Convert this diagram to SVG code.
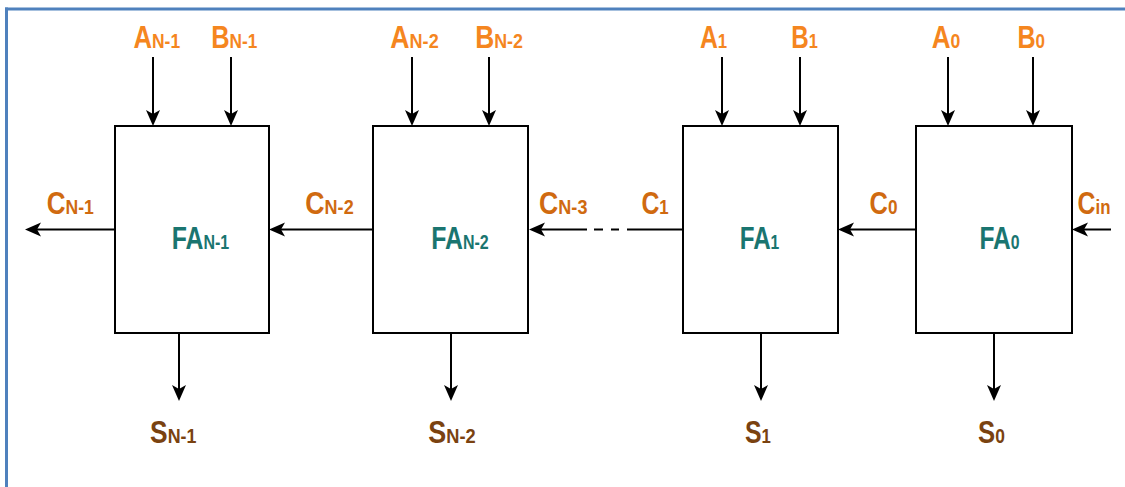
<svg xmlns="http://www.w3.org/2000/svg" width="1125" height="487" viewBox="0 0 1125 487">
<style>
.box{fill:#fff;stroke:#000;stroke-width:2}
.wire{stroke:#000;stroke-width:2;fill:none}
.lbl{font-family:"Liberation Sans",Arial,sans-serif;font-weight:bold;text-anchor:middle}
.io{fill:#F5861F}
.car{fill:#D06A10}
.sum{fill:#7A4210}
.fa{fill:#1A7570}
.big{font-size:31px}
.sub{font-size:21px}
.fsub{font-size:20px}
.frame{stroke:#4F81BD;stroke-width:3;fill:none}
</style>
<defs>
<marker id="arr" markerUnits="userSpaceOnUse" markerWidth="20" markerHeight="16" viewBox="-17 -8 20 16" refX="-10" refY="0" orient="auto">
<path d="M0,0 L-16,-7 L-12,0 L-16,7 Z" fill="#000"/>
</marker>
</defs>
<rect x="0" y="0" width="1125" height="487" fill="#fff"/>
<g id="frame">
<line class="frame" x1="5" y1="9" x2="1125" y2="9"/>
<line class="frame" x1="6.5" y1="7.5" x2="6.5" y2="487"/>
</g>
<g id="connectors">
<line class="wire" x1="153" y1="57" x2="153" y2="116" marker-end="url(#arr)"/>
<line class="wire" x1="231" y1="57" x2="231" y2="116" marker-end="url(#arr)"/>
<line class="wire" x1="412" y1="57" x2="412" y2="116" marker-end="url(#arr)"/>
<line class="wire" x1="489" y1="57" x2="489" y2="116" marker-end="url(#arr)"/>
<line class="wire" x1="722" y1="57" x2="722" y2="116" marker-end="url(#arr)"/>
<line class="wire" x1="800" y1="57" x2="800" y2="116" marker-end="url(#arr)"/>
<line class="wire" x1="948" y1="57" x2="948" y2="116" marker-end="url(#arr)"/>
<line class="wire" x1="1033" y1="57" x2="1033" y2="116" marker-end="url(#arr)"/>
<line class="wire" x1="179" y1="333" x2="179" y2="391" marker-end="url(#arr)"/>
<line class="wire" x1="451" y1="333" x2="451" y2="391" marker-end="url(#arr)"/>
<line class="wire" x1="761" y1="333" x2="761" y2="391" marker-end="url(#arr)"/>
<line class="wire" x1="994" y1="333" x2="994" y2="391" marker-end="url(#arr)"/>
<line class="wire" x1="115" y1="229.5" x2="35" y2="229.5" marker-end="url(#arr)"/>
<line class="wire" x1="373" y1="229.5" x2="279" y2="229.5" marker-end="url(#arr)"/>
<line class="wire" x1="587" y1="229.5" x2="539" y2="229.5" marker-end="url(#arr)"/>
<line class="wire" x1="594" y1="229.5" x2="603" y2="229.5"/>
<line class="wire" x1="611" y1="229.5" x2="619" y2="229.5"/>
<line class="wire" x1="627" y1="229.5" x2="683" y2="229.5"/>
<line class="wire" x1="916" y1="229.5" x2="848" y2="229.5" marker-end="url(#arr)"/>
<line class="wire" x1="1111" y1="229.5" x2="1082" y2="229.5" marker-end="url(#arr)"/>
</g>
<g id="fa_n1">
<rect class="box" x="115" y="126" width="154" height="207"/>
<text class="lbl fa" transform="translate(200.5,249) scale(0.8,1)"><tspan class="big">FA</tspan><tspan class="fsub">N-1</tspan></text>
</g>
<g id="fa_n2">
<rect class="box" x="373" y="126" width="155" height="207"/>
<text class="lbl fa" transform="translate(460,249) scale(0.8,1)"><tspan class="big">FA</tspan><tspan class="fsub">N-2</tspan></text>
</g>
<g id="fa_1">
<rect class="box" x="683" y="126" width="155" height="207"/>
<text class="lbl fa" transform="translate(759.5,249) scale(0.78,1)"><tspan class="big">FA</tspan><tspan class="fsub">1</tspan></text>
</g>
<g id="fa_0">
<rect class="box" x="916" y="126" width="156" height="207"/>
<text class="lbl fa" transform="translate(999.5,249) scale(0.79,1)"><tspan class="big">FA</tspan><tspan class="fsub">0</tspan></text>
</g>
<g id="labels">
<text class="lbl io" transform="translate(156.75,48) scale(0.83,1)"><tspan class="big">A</tspan><tspan class="sub">N-1</tspan></text>
<text class="lbl io" transform="translate(234.25,48) scale(0.82,1)"><tspan class="big">B</tspan><tspan class="sub">N-1</tspan></text>
<text class="lbl io" transform="translate(414.5,48) scale(0.86,1)"><tspan class="big">A</tspan><tspan class="sub">N-2</tspan></text>
<text class="lbl io" transform="translate(499,48) scale(0.85,1)"><tspan class="big">B</tspan><tspan class="sub">N-2</tspan></text>
<text class="lbl io" transform="translate(713.5,48) scale(0.8,1)"><tspan class="big">A</tspan><tspan class="sub">1</tspan></text>
<text class="lbl io" transform="translate(804.5,48) scale(0.78,1)"><tspan class="big">B</tspan><tspan class="sub">1</tspan></text>
<text class="lbl io" transform="translate(946,48) scale(0.84,1)"><tspan class="big">A</tspan><tspan class="sub">0</tspan></text>
<text class="lbl io" transform="translate(1031.25,48) scale(0.81,1)"><tspan class="big">B</tspan><tspan class="sub">0</tspan></text>
<text class="lbl car" transform="translate(70.25,214) scale(0.84,1)"><tspan class="big">C</tspan><tspan class="sub">N-1</tspan></text>
<text class="lbl car" transform="translate(329.5,214) scale(0.86,1)"><tspan class="big">C</tspan><tspan class="sub">N-2</tspan></text>
<text class="lbl car" transform="translate(563.25,214) scale(0.86,1)"><tspan class="big">C</tspan><tspan class="sub">N-3</tspan></text>
<text class="lbl car" transform="translate(655,214) scale(0.8,1)"><tspan class="big">C</tspan><tspan class="sub">1</tspan></text>
<text class="lbl car" transform="translate(883.5,214) scale(0.82,1)"><tspan class="big">C</tspan><tspan class="sub">0</tspan></text>
<text class="lbl car" transform="translate(1094,214) scale(0.8,1)"><tspan class="big">C</tspan><tspan class="sub">in</tspan></text>
<text class="lbl sum" transform="translate(173.25,443) scale(0.85,1)"><tspan class="big">S</tspan><tspan class="sub">N-1</tspan></text>
<text class="lbl sum" transform="translate(452,443) scale(0.87,1)"><tspan class="big">S</tspan><tspan class="sub">N-2</tspan></text>
<text class="lbl sum" transform="translate(758,443) scale(0.8,1)"><tspan class="big">S</tspan><tspan class="sub">1</tspan></text>
<text class="lbl sum" transform="translate(991.5,443) scale(0.83,1)"><tspan class="big">S</tspan><tspan class="sub">0</tspan></text>
</g>
</svg>
